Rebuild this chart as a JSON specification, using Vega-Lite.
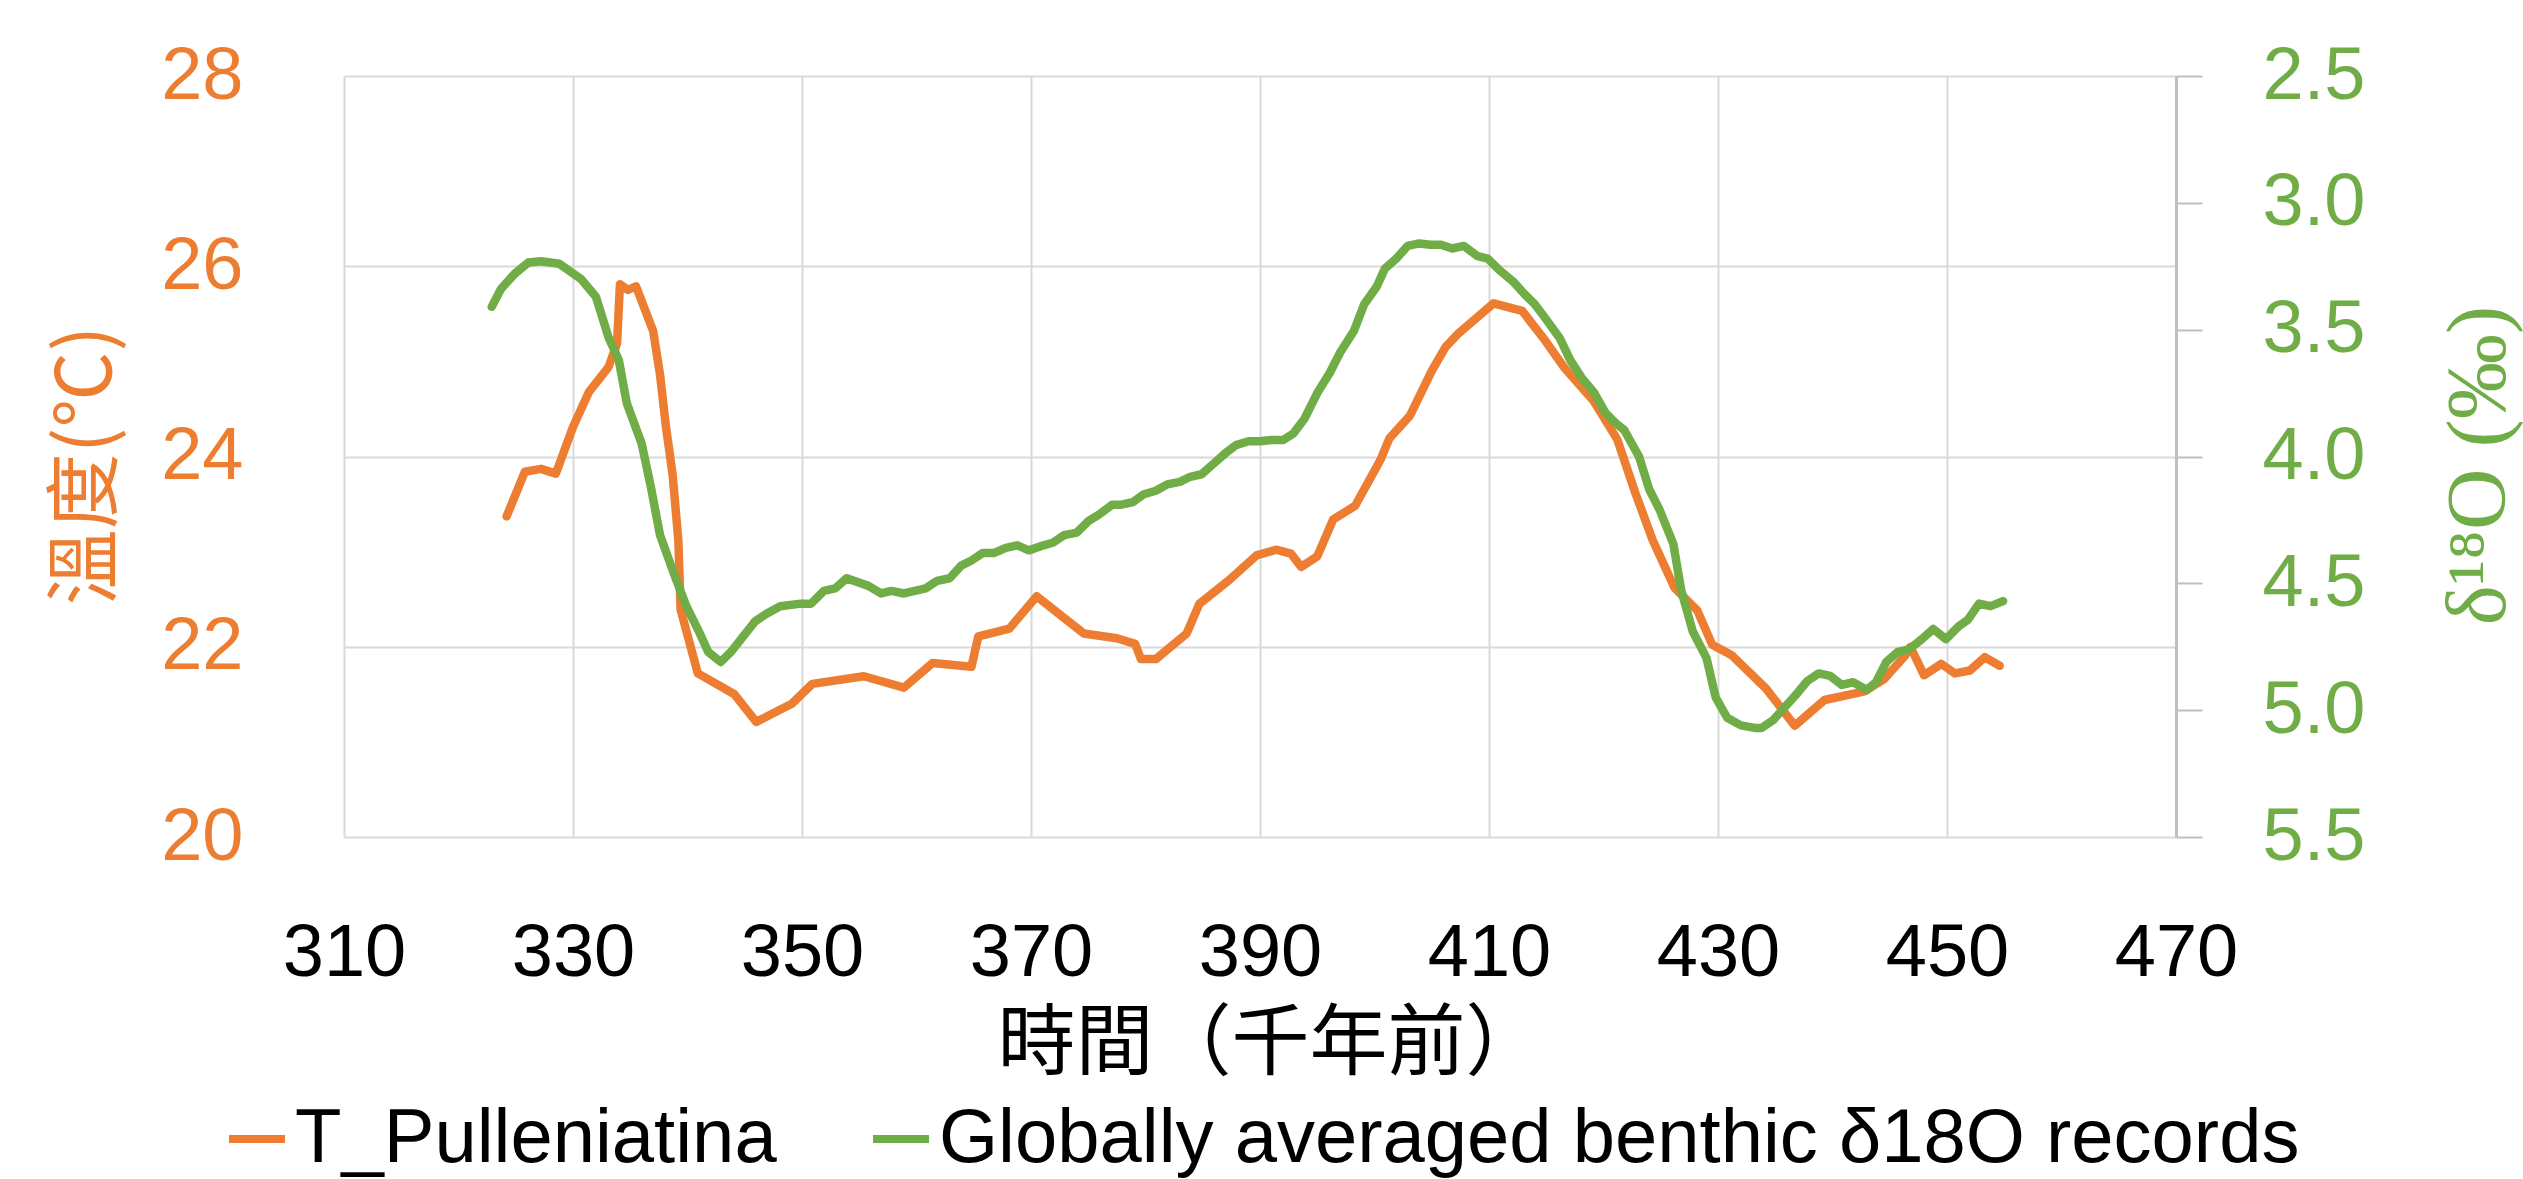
{
 "$schema": "https://vega.github.io/schema/vega-lite/v6.json",
 "width": 1832, "height": 761,
 "autosize": {"type": "none"},
 "padding": {"left": 344, "top": 76, "right": 347, "bottom": 342},
 "background": "white",
 "config": {"view": {"stroke": null}, "font": "Liberation Sans"},
 "datasets": {
  "temp": [
   {"s":"T_Pulleniatina","t":324.2,"v":23.37},{"s":"T_Pulleniatina","t":325.8,"v":23.84},{"s":"T_Pulleniatina","t":327.2,"v":23.87},{"s":"T_Pulleniatina","t":328.5,"v":23.82},{"s":"T_Pulleniatina","t":330.0,"v":24.31},{"s":"T_Pulleniatina","t":331.4,"v":24.68},{"s":"T_Pulleniatina","t":333.1,"v":24.94},{"s":"T_Pulleniatina","t":333.85,"v":25.19},{"s":"T_Pulleniatina","t":334.1,"v":25.81},{"s":"T_Pulleniatina","t":334.8,"v":25.75},{"s":"T_Pulleniatina","t":335.5,"v":25.79},{"s":"T_Pulleniatina","t":337.0,"v":25.32},{"s":"T_Pulleniatina","t":337.6,"v":24.86},{"s":"T_Pulleniatina","t":338.1,"v":24.33},{"s":"T_Pulleniatina","t":338.7,"v":23.81},{"s":"T_Pulleniatina","t":339.2,"v":23.12},{"s":"T_Pulleniatina","t":339.4,"v":22.39},{"s":"T_Pulleniatina","t":340.9,"v":21.72},{"s":"T_Pulleniatina","t":344.1,"v":21.5},{"s":"T_Pulleniatina","t":346.0,"v":21.21},{"s":"T_Pulleniatina","t":349.1,"v":21.4},{"s":"T_Pulleniatina","t":350.9,"v":21.61},{"s":"T_Pulleniatina","t":355.4,"v":21.69},{"s":"T_Pulleniatina","t":358.9,"v":21.57},{"s":"T_Pulleniatina","t":361.4,"v":21.83},{"s":"T_Pulleniatina","t":364.8,"v":21.79},{"s":"T_Pulleniatina","t":365.4,"v":22.11},{"s":"T_Pulleniatina","t":368.1,"v":22.19},{"s":"T_Pulleniatina","t":370.5,"v":22.53},{"s":"T_Pulleniatina","t":374.6,"v":22.14},{"s":"T_Pulleniatina","t":377.5,"v":22.09},{"s":"T_Pulleniatina","t":379.1,"v":22.03},{"s":"T_Pulleniatina","t":379.6,"v":21.87},{"s":"T_Pulleniatina","t":380.9,"v":21.87},{"s":"T_Pulleniatina","t":383.6,"v":22.14},{"s":"T_Pulleniatina","t":384.7,"v":22.45},{"s":"T_Pulleniatina","t":387.3,"v":22.7},{"s":"T_Pulleniatina","t":389.7,"v":22.96},{"s":"T_Pulleniatina","t":391.4,"v":23.02},{"s":"T_Pulleniatina","t":392.7,"v":22.98},{"s":"T_Pulleniatina","t":393.6,"v":22.84},{"s":"T_Pulleniatina","t":395.0,"v":22.95},{"s":"T_Pulleniatina","t":396.4,"v":23.34},{"s":"T_Pulleniatina","t":398.3,"v":23.48},{"s":"T_Pulleniatina","t":400.5,"v":23.96},{"s":"T_Pulleniatina","t":401.3,"v":24.19},{"s":"T_Pulleniatina","t":403.1,"v":24.43},{"s":"T_Pulleniatina","t":405.0,"v":24.9},{"s":"T_Pulleniatina","t":406.2,"v":25.15},{"s":"T_Pulleniatina","t":407.3,"v":25.29},{"s":"T_Pulleniatina","t":410.4,"v":25.61},{"s":"T_Pulleniatina","t":412.9,"v":25.53},{"s":"T_Pulleniatina","t":414.9,"v":25.22},{"s":"T_Pulleniatina","t":416.6,"v":24.93},{"s":"T_Pulleniatina","t":419.1,"v":24.59},{"s":"T_Pulleniatina","t":421.2,"v":24.18},{"s":"T_Pulleniatina","t":422.8,"v":23.61},{"s":"T_Pulleniatina","t":424.3,"v":23.12},{"s":"T_Pulleniatina","t":426.2,"v":22.62},{"s":"T_Pulleniatina","t":428.2,"v":22.38},{"s":"T_Pulleniatina","t":429.5,"v":22.02},{"s":"T_Pulleniatina","t":431.2,"v":21.91},{"s":"T_Pulleniatina","t":434.2,"v":21.56},{"s":"T_Pulleniatina","t":436.7,"v":21.17},{"s":"T_Pulleniatina","t":439.3,"v":21.44},{"s":"T_Pulleniatina","t":442.8,"v":21.53},{"s":"T_Pulleniatina","t":444.5,"v":21.66},{"s":"T_Pulleniatina","t":446.3,"v":21.9},{"s":"T_Pulleniatina","t":446.8,"v":22.0},{"s":"T_Pulleniatina","t":448.0,"v":21.7},{"s":"T_Pulleniatina","t":449.5,"v":21.82},{"s":"T_Pulleniatina","t":450.7,"v":21.72},{"s":"T_Pulleniatina","t":452.0,"v":21.75},{"s":"T_Pulleniatina","t":453.3,"v":21.89},{"s":"T_Pulleniatina","t":454.6,"v":21.8}
  ],
  "d18o": [
   {"s":"Globally averaged benthic δ18O records","t":322.9,"v":3.41},{"s":"Globally averaged benthic δ18O records","t":323.7,"v":3.34},{"s":"Globally averaged benthic δ18O records","t":324.9,"v":3.28},{"s":"Globally averaged benthic δ18O records","t":326.1,"v":3.235},{"s":"Globally averaged benthic δ18O records","t":327.2,"v":3.23},{"s":"Globally averaged benthic δ18O records","t":328.8,"v":3.24},{"s":"Globally averaged benthic δ18O records","t":330.7,"v":3.3},{"s":"Globally averaged benthic δ18O records","t":332.0,"v":3.37},{"s":"Globally averaged benthic δ18O records","t":333.1,"v":3.53},{"s":"Globally averaged benthic δ18O records","t":334.0,"v":3.62},{"s":"Globally averaged benthic δ18O records","t":334.7,"v":3.79},{"s":"Globally averaged benthic δ18O records","t":336.0,"v":3.95},{"s":"Globally averaged benthic δ18O records","t":336.8,"v":4.12},{"s":"Globally averaged benthic δ18O records","t":337.6,"v":4.31},{"s":"Globally averaged benthic δ18O records","t":338.8,"v":4.46},{"s":"Globally averaged benthic δ18O records","t":339.9,"v":4.59},{"s":"Globally averaged benthic δ18O records","t":341.0,"v":4.69},{"s":"Globally averaged benthic δ18O records","t":341.8,"v":4.77},{"s":"Globally averaged benthic δ18O records","t":342.9,"v":4.81},{"s":"Globally averaged benthic δ18O records","t":343.8,"v":4.77},{"s":"Globally averaged benthic δ18O records","t":345.9,"v":4.65},{"s":"Globally averaged benthic δ18O records","t":346.9,"v":4.62},{"s":"Globally averaged benthic δ18O records","t":348.1,"v":4.59},{"s":"Globally averaged benthic δ18O records","t":349.9,"v":4.58},{"s":"Globally averaged benthic δ18O records","t":350.8,"v":4.58},{"s":"Globally averaged benthic δ18O records","t":351.9,"v":4.53},{"s":"Globally averaged benthic δ18O records","t":352.9,"v":4.52},{"s":"Globally averaged benthic δ18O records","t":353.9,"v":4.48},{"s":"Globally averaged benthic δ18O records","t":355.8,"v":4.51},{"s":"Globally averaged benthic δ18O records","t":356.9,"v":4.54},{"s":"Globally averaged benthic δ18O records","t":357.8,"v":4.53},{"s":"Globally averaged benthic δ18O records","t":358.9,"v":4.54},{"s":"Globally averaged benthic δ18O records","t":360.8,"v":4.52},{"s":"Globally averaged benthic δ18O records","t":361.8,"v":4.49},{"s":"Globally averaged benthic δ18O records","t":362.9,"v":4.48},{"s":"Globally averaged benthic δ18O records","t":363.9,"v":4.43},{"s":"Globally averaged benthic δ18O records","t":364.8,"v":4.41},{"s":"Globally averaged benthic δ18O records","t":365.8,"v":4.38},{"s":"Globally averaged benthic δ18O records","t":366.8,"v":4.38},{"s":"Globally averaged benthic δ18O records","t":367.8,"v":4.36},{"s":"Globally averaged benthic δ18O records","t":368.8,"v":4.35},{"s":"Globally averaged benthic δ18O records","t":369.8,"v":4.37},{"s":"Globally averaged benthic δ18O records","t":371.1,"v":4.35},{"s":"Globally averaged benthic δ18O records","t":371.9,"v":4.34},{"s":"Globally averaged benthic δ18O records","t":372.9,"v":4.31},{"s":"Globally averaged benthic δ18O records","t":374.0,"v":4.3},{"s":"Globally averaged benthic δ18O records","t":375.0,"v":4.255},{"s":"Globally averaged benthic δ18O records","t":375.9,"v":4.23},{"s":"Globally averaged benthic δ18O records","t":377.1,"v":4.19},{"s":"Globally averaged benthic δ18O records","t":377.9,"v":4.19},{"s":"Globally averaged benthic δ18O records","t":378.9,"v":4.18},{"s":"Globally averaged benthic δ18O records","t":379.8,"v":4.15},{"s":"Globally averaged benthic δ18O records","t":380.9,"v":4.135},{"s":"Globally averaged benthic δ18O records","t":381.9,"v":4.11},{"s":"Globally averaged benthic δ18O records","t":383.0,"v":4.1},{"s":"Globally averaged benthic δ18O records","t":383.9,"v":4.08},{"s":"Globally averaged benthic δ18O records","t":384.9,"v":4.07},{"s":"Globally averaged benthic δ18O records","t":385.9,"v":4.03},{"s":"Globally averaged benthic δ18O records","t":386.9,"v":3.99},{"s":"Globally averaged benthic δ18O records","t":387.9,"v":3.955},{"s":"Globally averaged benthic δ18O records","t":389.0,"v":3.94},{"s":"Globally averaged benthic δ18O records","t":390.0,"v":3.94},{"s":"Globally averaged benthic δ18O records","t":391.0,"v":3.935},{"s":"Globally averaged benthic δ18O records","t":392.0,"v":3.935},{"s":"Globally averaged benthic δ18O records","t":392.9,"v":3.91},{"s":"Globally averaged benthic δ18O records","t":393.9,"v":3.85},{"s":"Globally averaged benthic δ18O records","t":395.0,"v":3.75},{"s":"Globally averaged benthic δ18O records","t":396.1,"v":3.67},{"s":"Globally averaged benthic δ18O records","t":397.0,"v":3.59},{"s":"Globally averaged benthic δ18O records","t":398.2,"v":3.505},{"s":"Globally averaged benthic δ18O records","t":399.1,"v":3.4},{"s":"Globally averaged benthic δ18O records","t":400.2,"v":3.33},{"s":"Globally averaged benthic δ18O records","t":400.9,"v":3.26},{"s":"Globally averaged benthic δ18O records","t":401.9,"v":3.22},{"s":"Globally averaged benthic δ18O records","t":402.9,"v":3.17},{"s":"Globally averaged benthic δ18O records","t":403.9,"v":3.16},{"s":"Globally averaged benthic δ18O records","t":404.9,"v":3.165},{"s":"Globally averaged benthic δ18O records","t":405.8,"v":3.165},{"s":"Globally averaged benthic δ18O records","t":406.8,"v":3.18},{"s":"Globally averaged benthic δ18O records","t":407.8,"v":3.17},{"s":"Globally averaged benthic δ18O records","t":409.0,"v":3.21},{"s":"Globally averaged benthic δ18O records","t":409.9,"v":3.22},{"s":"Globally averaged benthic δ18O records","t":410.9,"v":3.265},{"s":"Globally averaged benthic δ18O records","t":412.1,"v":3.31},{"s":"Globally averaged benthic δ18O records","t":413.1,"v":3.36},{"s":"Globally averaged benthic δ18O records","t":414.0,"v":3.4},{"s":"Globally averaged benthic δ18O records","t":415.0,"v":3.46},{"s":"Globally averaged benthic δ18O records","t":416.2,"v":3.535},{"s":"Globally averaged benthic δ18O records","t":417.1,"v":3.62},{"s":"Globally averaged benthic δ18O records","t":418.1,"v":3.69},{"s":"Globally averaged benthic δ18O records","t":419.2,"v":3.75},{"s":"Globally averaged benthic δ18O records","t":420.2,"v":3.83},{"s":"Globally averaged benthic δ18O records","t":421.1,"v":3.87},{"s":"Globally averaged benthic δ18O records","t":421.8,"v":3.895},{"s":"Globally averaged benthic δ18O records","t":423.1,"v":4.0},{"s":"Globally averaged benthic δ18O records","t":424.0,"v":4.13},{"s":"Globally averaged benthic δ18O records","t":424.9,"v":4.21},{"s":"Globally averaged benthic δ18O records","t":426.1,"v":4.345},{"s":"Globally averaged benthic δ18O records","t":426.8,"v":4.53},{"s":"Globally averaged benthic δ18O records","t":427.8,"v":4.69},{"s":"Globally averaged benthic δ18O records","t":429.0,"v":4.795},{"s":"Globally averaged benthic δ18O records","t":429.8,"v":4.95},{"s":"Globally averaged benthic δ18O records","t":430.8,"v":5.03},{"s":"Globally averaged benthic δ18O records","t":432.0,"v":5.06},{"s":"Globally averaged benthic δ18O records","t":433.2,"v":5.07},{"s":"Globally averaged benthic δ18O records","t":433.8,"v":5.07},{"s":"Globally averaged benthic δ18O records","t":434.8,"v":5.04},{"s":"Globally averaged benthic δ18O records","t":436.7,"v":4.945},{"s":"Globally averaged benthic δ18O records","t":437.8,"v":4.885},{"s":"Globally averaged benthic δ18O records","t":438.8,"v":4.855},{"s":"Globally averaged benthic δ18O records","t":439.8,"v":4.865},{"s":"Globally averaged benthic δ18O records","t":440.8,"v":4.9},{"s":"Globally averaged benthic δ18O records","t":441.8,"v":4.89},{"s":"Globally averaged benthic δ18O records","t":443.0,"v":4.92},{"s":"Globally averaged benthic δ18O records","t":443.8,"v":4.89},{"s":"Globally averaged benthic δ18O records","t":444.7,"v":4.81},{"s":"Globally averaged benthic δ18O records","t":445.7,"v":4.77},{"s":"Globally averaged benthic δ18O records","t":446.7,"v":4.76},{"s":"Globally averaged benthic δ18O records","t":447.8,"v":4.72},{"s":"Globally averaged benthic δ18O records","t":448.8,"v":4.68},{"s":"Globally averaged benthic δ18O records","t":449.9,"v":4.72},{"s":"Globally averaged benthic δ18O records","t":451.0,"v":4.67},{"s":"Globally averaged benthic δ18O records","t":451.8,"v":4.645},{"s":"Globally averaged benthic δ18O records","t":452.8,"v":4.58},{"s":"Globally averaged benthic δ18O records","t":453.8,"v":4.59},{"s":"Globally averaged benthic δ18O records","t":454.9,"v":4.57}
  ]
 },
 "encoding": {
  "x": {
   "field": "t", "type": "quantitative",
   "scale": {"domain": [310, 470], "nice": false, "zero": false},
   "axis": {
    "values": [310, 330, 350, 370, 390, 410, 430, 450, 470],
    "grid": true, "gridColor": "#D9D9D9", "gridWidth": 2,
    "domain": false, "ticks": false, "tickSize": 0,
    "labelFont": "Liberation Sans", "labelFontSize": 74, "labelColor": "#000000",
    "labelPadding": 116, "labelBaseline": "middle", "labelFlush": false, "labelOverlap": false, "labelBound": false,
    "title": "時間（千年前）", "titleFont": "Noto Sans CJK TC", "titleFontSize": 78, "titleFontWeight": "normal", "titleColor": "#000000",
    "titleX": 926, "titleY": 208, "titleBaseline": "middle", "titleAlign": "center", "titleAnchor": null
   }
  },
  "color": {
   "field": "s", "type": "nominal",
   "scale": {"domain": ["T_Pulleniatina", "Globally averaged benthic δ18O records"], "range": ["#ED7D31", "#70AD47"]},
   "legend": {
    "orient": "none", "legendX": -125, "legendY": 1025, "direction": "horizontal", "title": null,
    "labelFont": "Liberation Sans", "labelFontSize": 76, "labelColor": "#000000", "labelLimit": 0,
    "symbolType": "stroke", "symbolSize": 3136, "symbolStrokeWidth": 8, "labelOffset": 0, "columnPadding": 80
   }
  }
 },
 "layer": [
  {
   "data": {"name": "temp"},
   "mark": {"type": "line", "strokeWidth": 8.5, "strokeJoin": "round", "strokeCap": "round"},
   "encoding": {
    "y": {
     "field": "v", "type": "quantitative",
     "scale": {"domain": [20, 28], "nice": false, "zero": false},
     "axis": {
      "orient": "left", "values": [20, 22, 24, 26, 28],
      "grid": true, "gridColor": "#D9D9D9", "gridWidth": 2,
      "domain": false, "ticks": false, "tickSize": 0,
      "labelFont": "Liberation Sans", "labelFontSize": 74, "labelColor": "#ED7D31", "labelPadding": 101,
      "labelFlush": false, "labelOverlap": false, "labelBound": false,
      "title": "溫度(℃)", "titleFont": "Noto Sans CJK TC", "titleFontSize": 76, "titleFontWeight": "normal", "titleColor": "#ED7D31",
      "titleX": -257, "titleY": 389, "titleAngle": 270, "titleBaseline": "middle", "titleAlign": "center"
     }
    }
   }
  },
  {
   "data": {"name": "d18o"},
   "mark": {"type": "line", "strokeWidth": 8.5, "strokeJoin": "round", "strokeCap": "round"},
   "encoding": {
    "y": {
     "field": "v", "type": "quantitative",
     "scale": {"domain": [2.5, 5.5], "reverse": true, "nice": false, "zero": false},
     "axis": {
      "orient": "right", "values": [2.5, 3, 3.5, 4, 4.5, 5, 5.5], "format": ".1f",
      "grid": false, "domain": true, "domainColor": "#BFBFBF", "domainWidth": 3,
      "ticks": true, "tickColor": "#BFBFBF", "tickWidth": 2, "tickSize": 26, "tickOffset": 0,
      "labelFont": "Liberation Sans", "labelFontSize": 74, "labelColor": "#70AD47", "labelPadding": 60,
      "labelFlush": false, "labelOverlap": false, "labelBound": false,
      "title": "δ¹⁸O (‰)", "titleFont": "Liberation Serif", "titleFontSize": 85, "titleFontWeight": "normal", "titleColor": "#70AD47",
      "titleX": 302, "titleY": 389, "titleAngle": 270, "titleBaseline": "middle", "titleAlign": "center"
     }
    }
   }
  }
 ],
 "resolve": {"scale": {"y": "independent"}}
}
